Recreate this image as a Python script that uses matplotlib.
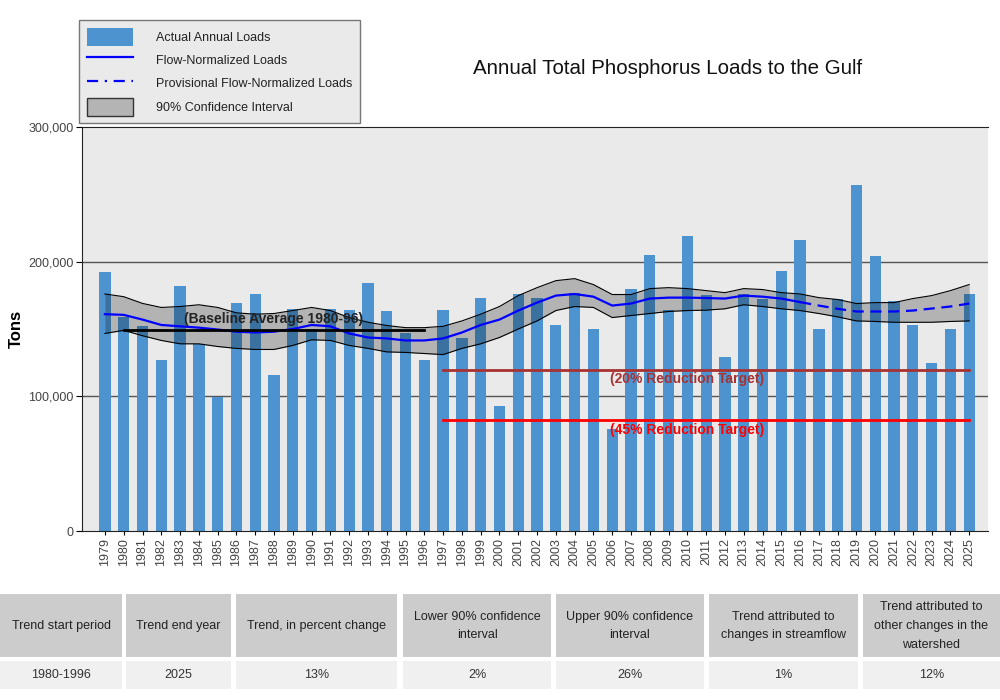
import matplotlib
matplotlib.use("Agg")
import matplotlib.pyplot as plt
from matplotlib.patches import Patch, Rectangle
from matplotlib.lines import Line2D
from matplotlib.ticker import FuncFormatter

plt.rcParams['font.family'] = ['Liberation Sans', 'DejaVu Sans']

# ---- data (tons) ----
years = list(range(1979, 2026))
loads = [192000, 159000, 152000, 127000, 182000, 139000, 99500, 169000, 176000, 116000,
         165000, 150000, 165000, 164000, 184000, 163000, 147000, 127000, 164000, 143000,
         173000, 92600, 176000, 173000, 153000, 177000, 150000, 76000, 180000, 205000,
         164000, 219000, 175000, 129000, 176000, 172000, 193000, 216000, 150000, 172000,
         257000, 204000, 171000, 153000, 125000, 150000, 176000]

fn_years = list(range(1979, 2017))
fn_loads = [161000, 160500, 157000, 153000, 152000, 151000, 149600, 148000, 147400, 148000,
            150000, 153000, 152000, 146700, 143700, 143000, 141500, 141500, 143000, 147400,
            153000, 157000, 163700, 169600, 174800, 176000, 174000, 167400, 168900, 172600,
            173300, 173300, 173000, 172600, 174800, 174000, 172600, 170000]

prov_years = list(range(2016, 2026))
prov_loads = [170000, 167400, 165000, 163000, 163000, 163000, 163700, 165200, 166700, 168900]

ci_upper = [176000, 174000, 169000, 166000, 166700, 168000, 166000, 162000, 161000, 161500,
            163700, 166000, 163700, 158500, 155000, 152600, 151000, 151000, 152000, 156000,
            161000, 166700, 174800, 180700, 185900, 187400, 183000, 175600, 175600, 180000,
            180700, 180000, 178500, 177000, 180000, 179300, 177000, 176000, 173300, 171900,
            168900, 169600, 169600, 172600, 174800, 178500, 183000]
ci_lower = [146700, 149000, 145000, 141500, 139000, 139000, 137000, 135600, 134800, 134800,
            137800, 142000, 141500, 137800, 135600, 133000, 132600, 131800, 131000, 135600,
            139000, 143700, 150000, 156000, 163700, 166700, 166000, 158500, 160000, 161500,
            163000, 163700, 164000, 165000, 168000, 166700, 165000, 163700, 161500, 159000,
            156000, 155600, 155000, 155000, 155000, 155600, 156000]

baseline_years = [1980, 1996]
baseline = 149500
target_years = [1997, 2025]
target20 = 119600
target45 = 82200

table_header = ["Trend start period", "Trend end year", "Trend, in percent change",
                "Lower 90% confidence\ninterval", "Upper 90% confidence\ninterval",
                "Trend attributed to\nchanges in streamflow",
                "Trend attributed to\nother changes in the\nwatershed"]
table_values = ["1980-1996", "2025", "13%", "2%", "26%", "1%", "12%"]
col_edges = [(0, 122), (126, 231), (236, 397), (403, 551), (556, 704), (709, 858), (863, 1000)]

# ---- figure ----
fig = plt.figure(figsize=(10, 7), dpi=100)
ax = fig.add_axes([0.082, 169 / 700, 0.906, 404 / 700])
ax.set_facecolor('#eaeaea')

bar_color = '#4d93d0'
ax.bar(years, loads, width=0.6, color=bar_color, zorder=2)

ax.fill_between(years, ci_lower, ci_upper, color='black', alpha=0.23, linewidth=0, zorder=3)
ax.plot(years, ci_upper, color='black', lw=0.8, zorder=3)
ax.plot(years, ci_lower, color='black', lw=0.8, zorder=3)

ax.plot(fn_years, fn_loads, color='#0000ff', lw=1.6, zorder=4)
ax.plot(prov_years, prov_loads, color='#0000ff', lw=1.6, dashes=(5, 3), zorder=4)

ax.plot(baseline_years, [baseline, baseline], color='black', lw=2, zorder=5)
ax.text(1987.95, 157500, "(Baseline Average 1980-96)", fontsize=10, fontweight='bold',
        color='#222222', ha='center', va='center', zorder=6)

ax.plot(target_years, [target20, target20], color='#a83232', lw=2, zorder=5)
ax.text(2010.0, 112500, "(20% Reduction Target)", fontsize=10, fontweight='bold',
        color='#a83232', ha='center', va='center', zorder=6)
ax.plot(target_years, [target45, target45], color='#ff0000', lw=2, zorder=5)
ax.text(2010.0, 75000, "(45% Reduction Target)", fontsize=10, fontweight='bold',
        color='#ff0000', ha='center', va='center', zorder=6)

ax.set_xlim(1977.78, 2026.0)
ax.set_ylim(0, 300000)
ax.set_yticks([0, 100000, 200000, 300000])
ax.yaxis.set_major_formatter(FuncFormatter(lambda v, p: '{:,.0f}'.format(v)))
ax.set_xticks(years)
ax.set_xticklabels([str(y) for y in years], rotation=90)
ax.tick_params(axis='both', labelsize=9, labelcolor='#444444', color='black')
ax.tick_params(axis='y', length=4.5, pad=1.5)
ax.tick_params(axis='x', length=3, pad=2)
for v in [100000, 200000]:
    ax.axhline(v, color='#555555', lw=1, zorder=1)
for s in ['left', 'bottom', 'top']:
    ax.spines[s].set_color('#222222')
ax.spines['right'].set_visible(False)
ax.set_ylabel("Tons", fontsize=12, fontweight='bold')
ax.yaxis.set_label_coords(-0.064, 0.5)

fig.text(0.668, 1 - 68 / 700, "Annual Total Phosphorus Loads to the Gulf", fontsize=14.8,
         ha='center', va='center', color='#111111')

handles = [Patch(facecolor=bar_color, edgecolor='none'),
           Line2D([], [], color='#0000ff', lw=1.6),
           Line2D([], [], color='#0000ff', lw=1.6, dashes=(5, 3, 1, 3)),
           Patch(facecolor='#b4b4b4', edgecolor='#333333')]
labels = ["Actual Annual Loads", "Flow-Normalized Loads",
          "Provisional Flow-Normalized Loads", "90% Confidence Interval"]
leg = fig.legend(handles, labels, loc='upper left', bbox_to_anchor=(79 / 1000, 1 - 20 / 700),
                 fontsize=9, handlelength=3.75, handleheight=1.85, handletextpad=1.85,
                 labelspacing=0.42, borderpad=0.6, borderaxespad=0, fancybox=False,
                 framealpha=1, facecolor='#eaeaea', edgecolor='#777777')
for t in leg.get_texts():
    t.set_color('#222222')

# ---- summary table ----
tax = fig.add_axes([0, 0, 1, 1], zorder=-1)
tax.set_xlim(0, 1000)
tax.set_ylim(700, 0)
tax.axis('off')
for (x0, x1), head, val in zip(col_edges, table_header, table_values):
    tax.add_patch(Rectangle((x0, 594), x1 - x0, 63, facecolor='#cccccc', edgecolor='none'))
    tax.add_patch(Rectangle((x0, 661), x1 - x0, 28, facecolor='#f0f0f0', edgecolor='none'))
    tax.text((x0 + x1) / 2, 626, head, fontsize=9, ha='center', va='center',
             color='#222222', linespacing=1.75)
    tax.text((x0 + x1) / 2, 675, val, fontsize=9, ha='center', va='center', color='#333333')

fig.savefig("out.png", dpi=100)
